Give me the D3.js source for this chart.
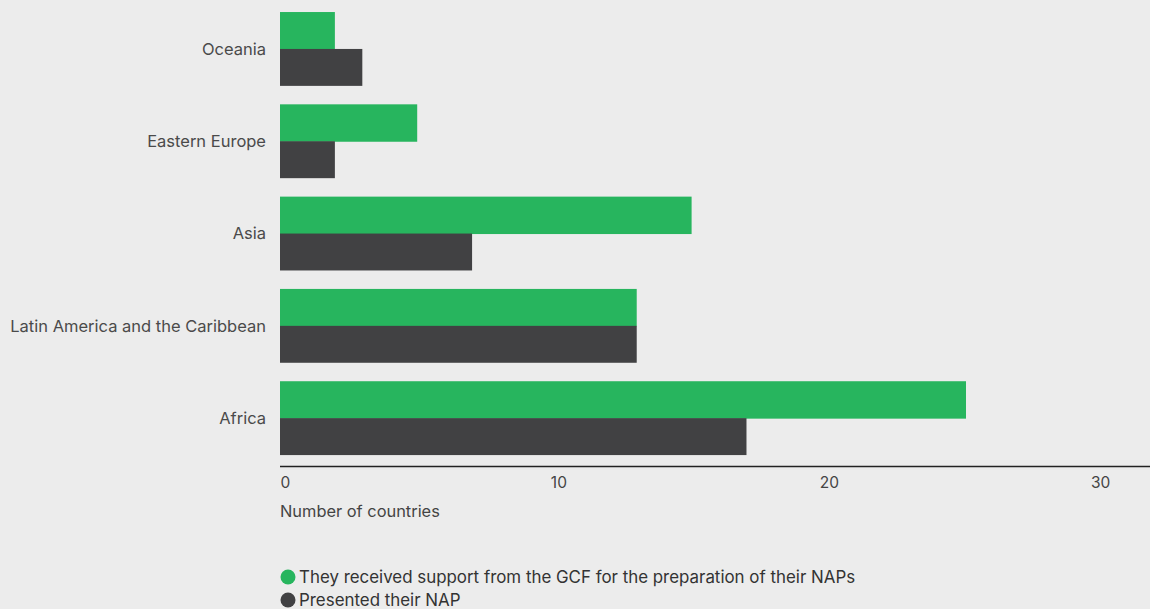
<!DOCTYPE html>
<html><head><meta charset="utf-8">
<script src="https://cdn.jsdelivr.net/npm/d3@7"></script>
<style>
html,body{margin:0;padding:0;background:#ececec;}
svg{display:block;font-family:"Inter","Liberation Sans",sans-serif;}
</style></head>
<body>
<svg id="chart" width="1150" height="609"></svg>
<script>
const categories = ["Oceania","Eastern Europe","Asia","Latin America and the Caribbean","Africa"];
const supportGCF = [2,5,15,13,25];
const presentedNAP = [3,2,7,13,17];
const seriesNames = ["They received support from the GCF for the preparation of their NAPs","Presented their NAP"];
const xTicks = [0,10,20,30];
const axisTitle = "Number of countries";
const colors = ["#27b55e","#414143"];

const svg = d3.select("#chart");
const x = d3.scaleLinear().domain([0,25]).range([280,966]);
const y = d3.scaleBand().domain(categories).range([2.8,464.3]).paddingInner(0.2).paddingOuter(0.1);
const sub = d3.scaleBand().domain([0,1]).range([0,y.bandwidth()]);

const data = categories.map((c,i)=>({c, v:[supportGCF[i],presentedNAP[i]]}));
const g = svg.append("g");
data.forEach(d=>{
  d.v.forEach((v,k)=>{
    g.append("rect").attr("x",x(0)).attr("y",y(d.c)+sub(k))
     .attr("width",x(v)-x(0)).attr("height",sub.bandwidth()+(k===0?0.5:0)).attr("fill",colors[k]);
  });
});
// category labels
svg.append("g").selectAll("text").data(categories).join("text")
  .attr("x",266).attr("y",d=>y(d)+y.bandwidth()/2).attr("dy","0.35em")
  .attr("text-anchor","end").attr("font-size",16.5).attr("fill","#4a4a4a").text(d=>d);
// axis
const ax = svg.append("g").attr("transform","translate(0,466.5)")
  .call(d3.axisBottom(x).tickValues(xTicks).tickSize(0).tickPadding(10).tickFormat(d3.format("d")));
ax.select(".domain").attr("d","M280,0H1150").attr("stroke","#222").attr("stroke-width",1.3);
ax.selectAll("text").attr("font-size",15.5).attr("fill","#444").attr("font-family","Inter, Liberation Sans, sans-serif")
  .attr("text-anchor",(d)=>d===0?"start":"middle")
  .attr("dx",(d)=>d===10?4:(d===30?-3:0));
svg.append("text").attr("x",280).attr("y",517).attr("font-size",16.4).attr("fill","#444").text(axisTitle);
// legend
const lg = svg.append("g");
seriesNames.forEach((s,i)=>{
  lg.append("circle").attr("cx",288).attr("cy",577+i*23).attr("r",7.5).attr("fill",colors[i]);
  lg.append("text").attr("x",299).attr("y",577+i*23).attr("dy","0.35em").attr("font-size",16.9).attr("fill","#333").text(s);
});
</script>
</body></html>
